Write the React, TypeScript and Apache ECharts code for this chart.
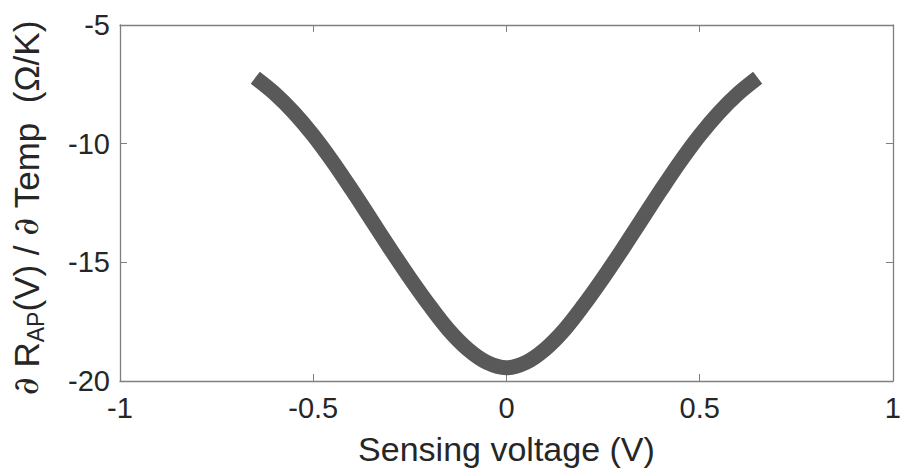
import React, { useEffect, useRef } from "react";
import * as echarts from "echarts";

const voltage = [-0.65, -0.6, -0.55, -0.5, -0.45, -0.4, -0.35, -0.3, -0.25, -0.2, -0.15, -0.1, -0.05, 0,
  0.05, 0.1, 0.15, 0.2, 0.25, 0.3, 0.35, 0.4, 0.45, 0.5, 0.55, 0.6, 0.65];
const dRdT = [-7.22, -7.88, -8.69, -9.65, -10.75, -11.95, -13.2, -14.45, -15.66, -16.8, -17.84, -18.66, -19.22, -19.44,
  -19.22, -18.66, -17.84, -16.8, -15.66, -14.45, -13.2, -11.95, -10.75, -9.65, -8.69, -7.88, -7.22];
const xTicks = { min: -1, max: 1, interval: 0.5 };
const yTicks = { min: -20, max: -5, interval: 5 };

const FONT = "'Liberation Sans', Arial, Helvetica, sans-serif";
const AXIS_COLOR = "#7f7f7f";
const TEXT_COLOR = "#262626";

export default function App() {
  const ref = useRef<HTMLDivElement>(null);
  useEffect(() => {
    document.body.style.margin = "0";
    const chart = echarts.init(ref.current!, null, { renderer: "svg" });
    const tick = { show: true, inside: true, length: 7, lineStyle: { color: AXIS_COLOR, width: 1 } };
    const line = { show: true, onZero: false, lineStyle: { color: AXIS_COLOR, width: 1.3 } };
    chart.setOption({
      animation: false,
      backgroundColor: "#ffffff",
      grid: { left: 120, top: 25, width: 776, height: 356, containLabel: false },
      xAxis: [
        {
          type: "value", ...xTicks, position: "bottom",
          axisLine: line, axisTick: tick, splitLine: { show: false },
          axisLabel: { color: TEXT_COLOR, fontSize: 29, fontFamily: FONT, margin: 12 },
          name: "Sensing voltage (V)", nameLocation: "middle", nameGap: 51,
          nameTextStyle: { color: TEXT_COLOR, fontSize: 34, fontFamily: FONT },
        },
        {
          type: "value", ...xTicks, position: "top",
          axisLine: line, axisTick: tick, splitLine: { show: false }, axisLabel: { show: false },
        },
      ],
      yAxis: [
        {
          type: "value", ...yTicks, position: "left",
          axisLine: line, axisTick: tick, splitLine: { show: false },
          axisLabel: { color: TEXT_COLOR, fontSize: 29, fontFamily: FONT, margin: 10 },
          name: "{p|∂} R{sub|AP}(V) / {p|∂} Temp  (Ω/K) ",
          nameLocation: "middle", nameRotate: 90, nameGap: 73,
          nameTextStyle: {
            color: TEXT_COLOR, fontSize: 35, fontFamily: FONT,
            rich: {
              p: { fontSize: 35, fontFamily: "'DejaVu Serif', serif", fontStyle: "italic", color: TEXT_COLOR, lineHeight: 42, verticalAlign: "middle" },
              sub: { fontSize: 23, fontFamily: FONT, color: TEXT_COLOR, lineHeight: 21, verticalAlign: "bottom" },
            },
          },
        },
        {
          type: "value", ...yTicks, position: "right",
          axisLine: line, axisTick: tick, splitLine: { show: false }, axisLabel: { show: false },
        },
      ],
      series: [
        {
          type: "line",
          data: voltage.map((v, i) => [v, dRdT[i]]),
          smooth: 0.35,
          showSymbol: false,
          symbol: "none",
          lineStyle: { color: "#595959", width: 15, cap: "butt", join: "round" },
        },
      ],
    });
    return () => chart.dispose();
  }, []);
  return <div ref={ref} style={{ width: 904, height: 473 }} />;
}
